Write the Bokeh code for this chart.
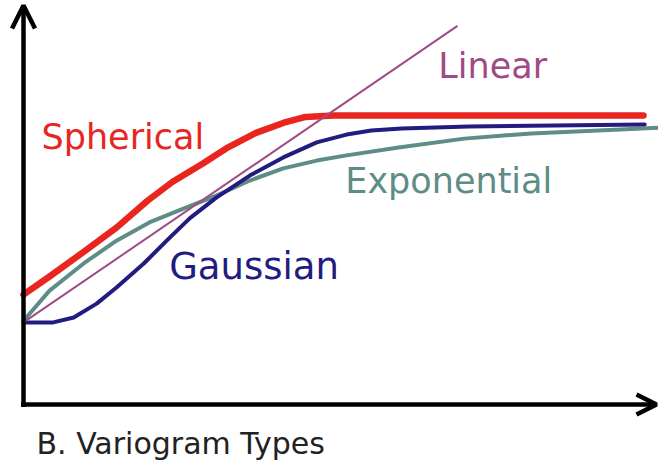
from bokeh.plotting import figure
from bokeh.models import Range1d, Arrow, OpenHead, Label
from bokeh.embed import file_html
from bokeh.resources import INLINE

# Lag distance (h) and semivariance (gamma) for each variogram model
sph_h = [0, 0.42, 0.97, 1.5, 2.0, 2.4, 2.9, 3.3, 3.75, 4.2, 4.55, 5.0, 10.0]
sph_g = [0.38, 0.443, 0.528, 0.612, 0.705, 0.77, 0.835, 0.89, 0.94, 0.975, 0.995, 1.0, 1.0]

lin_h = [0, 7.0]
lin_g = [0.284, 1.31]

exp_h = [0, 0.42, 0.97, 1.5, 2.03, 2.58, 3.11, 3.65, 4.19, 4.73, 5.21, 6.05, 7.11, 8.19, 9.27, 10.3]
exp_g = [0.29, 0.394, 0.488, 0.567, 0.63, 0.678, 0.723, 0.775, 0.817, 0.844, 0.862, 0.889, 0.92, 0.938, 0.948, 0.958]

gau_h = [0, 0.48, 0.81, 1.18, 1.5, 1.94, 2.31, 2.68, 3.11, 3.65, 4.19, 4.73, 5.21, 5.61, 6.1, 7.18, 10.02]
gau_g = [0.284, 0.284, 0.301, 0.349, 0.405, 0.488, 0.567, 0.644, 0.716, 0.792, 0.855, 0.907, 0.934, 0.948, 0.955, 0.962, 0.969]

# Curve names and where their labels sit (baseline-left, data units)
names = ["Spherical", "Linear", "Exponential", "Gaussian"]
label_h = [0.29, 6.69, 5.19, 2.35]
label_g = [0.927, 1.173, 0.773, 0.477]
label_size = ["35px", "35px", "35px", "37px"]

caption = "B. Variogram Types"
caption_h, caption_g = 0.21, -0.135

RED, PURPLE, TEAL, NAVY = "#e8261f", "#a04a86", "#5e8c86", "#231c80"

W, H = 658, 466
px_per_h, px_per_g = 62.0, 289.0
origin_x, origin_y = 23, 404

p = figure(
    width=W, height=H,
    x_range=Range1d(-origin_x / px_per_h, (W - origin_x) / px_per_h),
    y_range=Range1d(-(H - origin_y) / px_per_g, origin_y / px_per_g),
    x_axis_type=None, y_axis_type=None,
    toolbar_location=None, output_backend="svg",
    min_border=0, min_border_left=0, min_border_right=0,
    min_border_top=0, min_border_bottom=0,
)
p.grid.visible = False
p.outline_line_color = None
p.background_fill_color = "white"
p.border_fill_color = "white"

# Axes drawn as arrows from the origin
p.add_layout(Arrow(x_start=0, y_start=-2.5 / px_per_g, x_end=0, y_end=(origin_y - 5) / px_per_g,
                   line_color="black", line_width=4.5,
                   end=OpenHead(size=23, line_color="black", line_width=4.5)))
p.add_layout(Arrow(x_start=-2.5 / px_per_h, y_start=0, x_end=(656 - origin_x) / px_per_h, y_end=0,
                   line_color="black", line_width=4.5,
                   end=OpenHead(size=20, line_color="black", line_width=4.5)))

p.line(exp_h, exp_g, line_color=TEAL, line_width=4, line_join="round", line_cap="round")
p.line(gau_h, gau_g, line_color=NAVY, line_width=4, line_join="round", line_cap="round")
p.line(sph_h, sph_g, line_color=RED, line_width=6.5, line_join="round", line_cap="round")
p.line(lin_h, lin_g, line_color=PURPLE, line_width=2)

colors = [RED, PURPLE, TEAL, NAVY]
for name, hx, gy, sz, c in zip(names, label_h, label_g, label_size, colors):
    p.add_layout(Label(x=hx, y=gy, text=name, text_color=c, text_font="DejaVu Sans",
                       text_font_size=sz, text_align="left", text_baseline="alphabetic"))

p.add_layout(Label(x=caption_h, y=caption_g, text=caption, text_color="#222222",
                   text_font="DejaVu Sans", text_font_size="30px",
                   text_align="left", text_baseline="alphabetic"))

open("out.html", "w").write(file_html(p, INLINE))
